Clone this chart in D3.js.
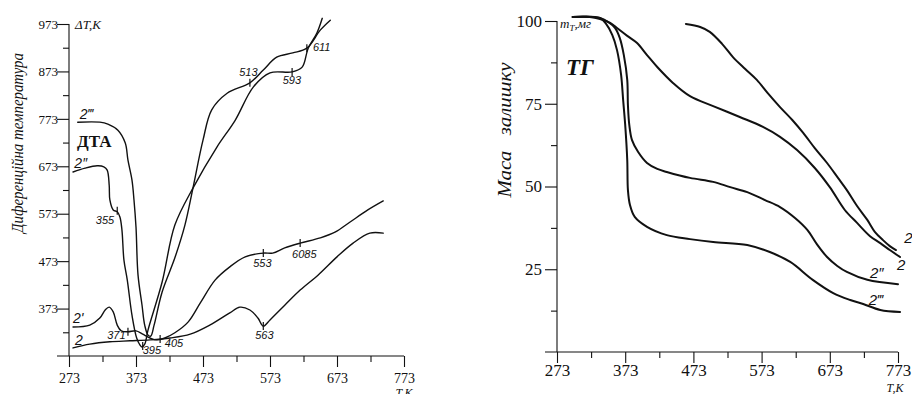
<!DOCTYPE html>
<html>
<head>
<meta charset="utf-8">
<script src="https://cdn.jsdelivr.net/npm/d3@7"></script>
<style>
  body { margin: 0; background: #fff; }
  text { fill: #111; }
</style>
</head>
<body>
<svg id="chart" width="912" height="394"></svg>
<script>
// ---- DTA panel data (T, K ; ΔT, K) ----
const dtaXTicks = [273, 373, 473, 573, 673, 773];
const dtaYTicks = [373, 473, 573, 673, 773, 873, 973];

const dta2 = [[279,290],[304,298],[334,303],[364,305],[394,307],[424,311],[454,319],[483,338],[513,364],[528,376],[543,370],[555,353],[563,336],[573,349],[595,380],[618,412],[645,444],[673,482],[697,511],[722,532],[742,532]];
const dta2a = [[279,334],[304,338],[319,353],[327,370],[333,376],[339,366],[345,338],[351,326],[361,324],[373,326],[383,319],[394,311],[404,307],[416,311],[431,322],[451,345],[469,385],[491,433],[513,461],[536,482],[563,490],[577,490],[595,501],[618,511],[648,522],[670,534],[692,555],[719,581],[742,600]];
const dta2b = [[279,661],[297,669],[315,674],[325,672],[330,665],[333,633],[334,602],[339,581],[345,577],[349,566],[352,539],[355,475],[360,433],[367,359],[374,311],[379,296],[382,292],[386,298],[391,328],[412,429],[431,549],[458,627],[494,714],[521,770],[548,840],[573,870],[606,872],[621,882],[630,922],[643,954],[651,985]];
const dta2c = [[286,766],[319,766],[331,762],[346,749],[357,722],[361,686],[367,644],[370,602],[373,545],[376,444],[382,380],[386,338],[391,317],[395,315],[400,338],[412,408],[431,480],[446,549],[458,627],[473,728],[486,792],[509,827],[543,849],[563,876],[583,903],[607,912],[628,922],[648,960],[663,981]];

// peak marks: label, tick point, label anchor
const dtaMarks = [
  ["355", 345, 579, 313, 551],
  ["371", 361, 324, 330, 308],
  ["395", 383, 294, 383, 277],
  ["405", 409, 309, 416, 292],
  ["513", 543, 849, 527, 864],
  ["593", 606, 872, 592, 846],
  ["611", 628, 922, 637, 916],
  ["553", 563, 490, 548, 461],
  ["6085", 618, 511, 606, 480],
  ["563", 563, 336, 551, 309]
];
const dtaCurveLabels = [["2", 282, 296], ["2'", 279, 343], ["2\u2033", 281, 670], ["2\u2034", 289, 772]];

// ---- TG panel data (T, K ; mass, mg) ----
const tgXTicks = [273, 373, 473, 573, 673, 773];
const tgYTicks = [25, 50, 75, 100];

const tg2 = [[296,101.2],[321,101.2],[336,100.6],[351,99.4],[361,97.9],[376,95.5],[390,93.4],[405,89.7],[420,86.1],[443,81.3],[468,77.3],[502,74.3],[541,71.0],[575,68.0],[600,65.0],[625,61.0],[651,55.6],[673,49.8],[695,42.9],[713,39.0],[732,35.0],[747,32.9],[761,30.8],[776,28.7]];
const tg2a = [[462,99.1],[483,98.2],[497,96.7],[515,93.1],[531,89.1],[549,85.5],[566,82.2],[582,78.2],[600,74.0],[618,70.1],[634,66.2],[651,61.6],[669,57.1],[685,52.6],[698,48.9],[713,44.1],[728,39.9],[739,36.3],[751,33.8],[761,32.0],[770,30.8]];
const tg2b = [[296,101.2],[336,100.9],[348,99.7],[358,97.9],[365,94.9],[371,89.7],[376,82.2],[377,74.6],[379,68.6],[383,64.0],[392,60.4],[405,57.1],[420,55.3],[434,54.4],[468,52.6],[502,51.4],[527,49.8],[552,48.3],[578,45.9],[600,43.8],[622,40.5],[640,36.9],[654,32.6],[669,28.7],[684,26.0],[698,24.2],[728,21.8],[773,20.5]];
const tg2c = [[296,101.2],[336,100.9],[345,99.1],[354,95.8],[361,91.2],[367,83.7],[370,76.1],[373,68.6],[376,58.0],[377,48.9],[380,44.4],[387,40.8],[405,37.8],[434,35.3],[468,34.1],[502,33.2],[552,32.3],[585,30.2],[615,27.2],[648,21.8],[678,17.8],[703,15.7],[722,14.5],[747,12.7],[776,12.1]];

const tgCurveLabels = [["2\u2033", 732, 22.4], ["2", 771.5, 24.8], ["2\u2034", 730, 14.2], ["2'", 782, 32.9]];

const serif = "'Liberation Serif', 'DejaVu Serif', serif";
const hand = "'Liberation Sans', 'DejaVu Sans', sans-serif";
const ink = "#111";

const svg = d3.select("#chart");
svg.append("rect").attr("width", 912).attr("height", 394).attr("fill", "#fff");

const curve = d3.curveCatmullRom.alpha(0.5);

function drawAxes(x, y, xTicks, yMajor, yMinor, xFont, yFont, yPad, xLabY) {
  const g = svg.append("g").attr("font-family", serif);
  const x0 = x.range()[0], y0 = y.range()[0];

  // x axis: base line runs a little left of the y axis
  g.append("line")
    .attr("x1", x0 - 12).attr("x2", x.range()[1])
    .attr("y1", y0).attr("y2", y0)
    .attr("stroke", ink).attr("stroke-width", 1.1);

  const xMinor = xTicks.slice(0, -1).map(d => d + 50);
  const gx = g.append("g").attr("transform", `translate(0,${y0})`)
    .call(d3.axisBottom(x).tickValues(xTicks).tickSize(11).tickSizeOuter(0).tickFormat(d3.format("d")));
  gx.select(".domain").remove();
  gx.selectAll("text").attr("y", xLabY).attr("dy", null).attr("font-size", xFont).attr("font-family", serif).attr("fill", ink);
  const gxm = g.append("g").attr("transform", `translate(0,${y0})`)
    .call(d3.axisBottom(x).tickValues(xMinor).tickSize(6).tickSizeOuter(0).tickFormat(""));
  gxm.select(".domain").remove();

  const gy = g.append("g").attr("transform", `translate(${x0},0)`)
    .call(d3.axisLeft(y).tickValues(yMajor).tickSize(12).tickSizeOuter(0).tickFormat(d3.format("d")));
  gy.select(".domain").attr("d", `M0,${y0}V${y(yMajor[yMajor.length - 1])}`);
  gy.selectAll("text").attr("x", -12 - yPad).attr("font-size", yFont).attr("font-family", serif).attr("fill", ink);
  g.append("g").attr("transform", `translate(${x0},0)`)
    .call(d3.axisLeft(y).tickValues(yMinor).tickSize(6).tickSizeOuter(0).tickFormat(""))
    .select(".domain").remove();

  g.selectAll("line, path").attr("stroke", ink).attr("stroke-width", 1.1);
}

function drawCurves(x, y, series, width) {
  const line = d3.line().x(d => x(d[0])).y(d => y(d[1])).curve(curve);
  svg.append("g").selectAll("path").data(series).join("path")
    .attr("d", line)
    .attr("fill", "none").attr("stroke", ink)
    .attr("stroke-width", width).attr("stroke-linejoin", "round").attr("stroke-linecap", "round");
}

// ================= DTA =================
const xL = d3.scaleLinear([273, 773], [69, 404]);
const yL = d3.scaleLinear([273, 973], [356, 24]);

drawAxes(xL, yL, dtaXTicks, dtaYTicks, dtaYTicks.slice(0, -1).map(d => d + 50).concat([323]), 14, 13, -1, 27);
drawCurves(xL, yL, [dta2, dta2a, dta2b, dta2c], 1.4);

// peak marks
const mk = svg.append("g");
mk.selectAll("line").data(dtaMarks).join("line")
  .attr("x1", d => xL(d[1])).attr("x2", d => xL(d[1]))
  .attr("y1", d => yL(d[2]) - 4).attr("y2", d => yL(d[2]) + 4)
  .attr("stroke", ink).attr("stroke-width", 1.2);
mk.selectAll("text").data(dtaMarks).join("text")
  .attr("x", d => xL(d[3])).attr("y", d => yL(d[4]))
  .attr("font-family", hand).attr("font-style", "italic").attr("font-size", 11)
  .text(d => d[0]);

svg.append("g").selectAll("text").data(dtaCurveLabels).join("text")
  .attr("x", d => xL(d[1])).attr("y", d => yL(d[2]))
  .attr("font-family", hand).attr("font-style", "italic").attr("font-size", 14)
  .text(d => d[0]);

svg.append("text").attr("x", 77).attr("y", 147)
  .attr("font-family", serif).attr("font-weight", "bold").attr("font-size", 17).text("ДТА");
svg.append("text").attr("x", 75).attr("y", 29)
  .attr("font-family", serif).attr("font-style", "italic").attr("font-size", 13).text("ΔT,K");
svg.append("text").attr("x", xL(773)).attr("y", 397).attr("text-anchor", "middle")
  .attr("font-family", serif).attr("font-style", "italic").attr("font-size", 12).text("T,K");
svg.append("text").attr("transform", "translate(23,143) rotate(-90)").attr("text-anchor", "middle")
  .attr("font-family", serif).attr("font-style", "italic").attr("font-size", 16)
  .attr("textLength", 180).attr("lengthAdjust", "spacingAndGlyphs")
  .text("Диференційна температура");

// ================= TG =================
const xR = d3.scaleLinear([273, 773], [557, 898]);
const yR = d3.scaleLinear([0, 100], [352, 21]);

drawAxes(xR, yR, tgXTicks, tgYTicks, [12.5, 37.5, 62.5, 87.5], 17, 17, 3, 24);
drawCurves(xR, yR, [tg2, tg2a, tg2b, tg2c], 2);

svg.append("g").selectAll("text").data(tgCurveLabels).join("text")
  .attr("x", d => xR(d[1])).attr("y", d => yR(d[2]))
  .attr("font-family", hand).attr("font-style", "italic").attr("font-size", 15)
  .text(d => d[0]);

const mt = svg.append("text").attr("x", 560).attr("y", 28)
  .attr("font-family", serif).attr("font-style", "italic").attr("font-size", 13);
mt.append("tspan").text("m");
mt.append("tspan").attr("font-size", 9).attr("dy", 3).text("T");
mt.append("tspan").attr("dy", -3).text(",мг");

svg.append("text").attr("x", 566).attr("y", 75)
  .attr("font-family", serif).attr("font-style", "italic").attr("font-weight", "bold").attr("font-size", 23).text("ТГ");
svg.append("text").attr("x", xR(773) - 3).attr("y", 392).attr("text-anchor", "middle")
  .attr("font-family", serif).attr("font-style", "italic").attr("font-size", 12).text("T,K");
svg.append("text").attr("transform", "translate(511,130) rotate(-90)").attr("text-anchor", "middle")
  .attr("font-family", serif).attr("font-style", "italic").attr("font-size", 19)
  .attr("textLength", 135).attr("lengthAdjust", "spacingAndGlyphs")
  .style("white-space", "pre")
  .text("Маса   залишку");
</script>
</body>
</html>
